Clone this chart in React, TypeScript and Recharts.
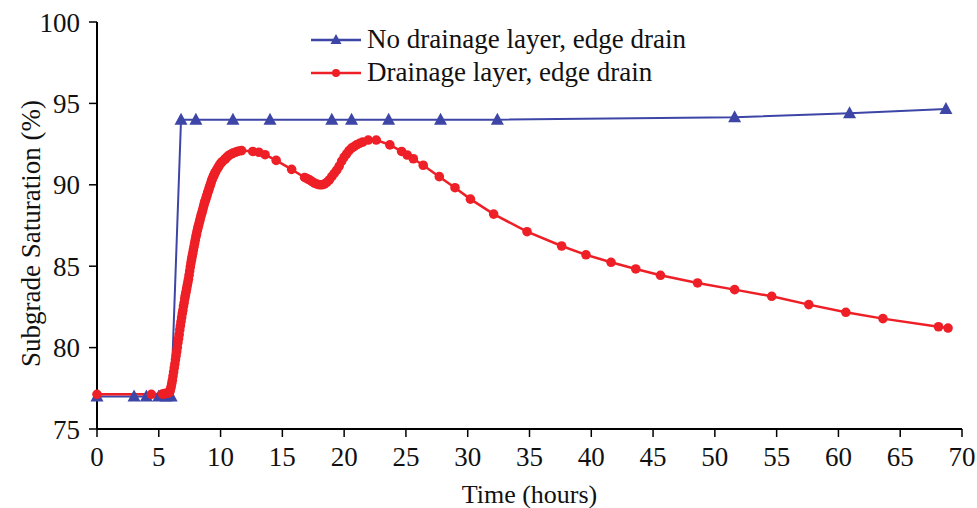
import React from "react";
import { Legend, Line, LineChart, XAxis, YAxis } from "recharts";

// Subgrade saturation over time, two drainage configurations
const noDrainHours = [0, 3, 4, 5, 5.6, 6, 6.8, 8, 11, 14, 19, 20.6, 23.6, 27.8, 32.4, 51.6, 60.9, 68.7];
const noDrainSat = [77, 77, 77, 77, 77, 77, 94, 94, 94, 94, 94, 94, 94, 94, 94, 94.15, 94.4, 94.65];

const drainHours = [
    0, 4.4, 5.3, 5.4, 5.5, 5.6, 5.7, 5.8, 5.85, 5.9, 5.95,
    6.0, 6.05, 6.1, 6.15, 6.2, 6.25, 6.3, 6.35, 6.4, 6.45, 6.5, 6.55, 6.6, 6.65, 6.7, 6.75, 6.8, 6.85,
    6.9, 6.95, 7.0, 7.05, 7.1, 7.15, 7.2, 7.25, 7.3, 7.35, 7.4, 7.45, 7.5, 7.55, 7.6, 7.65, 7.7, 7.75,
    7.8, 7.85, 7.9, 7.95, 8.0, 8.05, 8.1, 8.15, 8.2, 8.25, 8.3, 8.35, 8.4, 8.45, 8.5, 8.55, 8.6, 8.65,
    8.7, 8.75, 8.8, 8.85, 8.9, 8.95, 9.0, 9.05, 9.1, 9.15, 9.2, 9.25, 9.3, 9.35, 9.4, 9.45, 9.5, 9.55,
    9.6, 9.7, 9.8, 9.9, 10.0, 10.1, 10.25, 10.4, 10.5, 10.6, 10.75, 10.9, 11.0, 11.2, 11.35, 11.5, 11.7,
    12.6, 13.1, 13.6, 14.5, 15.75, 16.8, 17.0, 17.2, 17.4, 17.6, 17.8, 18.0, 18.2, 18.4, 18.6, 18.8,
    19.0, 19.2, 19.4, 19.6, 19.8, 20.0, 20.2, 20.4, 20.6, 20.8, 21.0, 21.25, 21.5, 21.95, 22.6, 23.7,
    24.65, 25.1, 25.6, 26.4, 27.7, 28.97, 30.22, 32.1, 34.8, 37.6, 39.57, 41.6, 43.6, 45.6, 48.6, 51.6,
    54.6, 57.6, 60.6, 63.6, 68.1, 68.87,
];
const drainSat = [
    77.13, 77.13, 77.15, 77.15, 77.18, 77.2, 77.2, 77.22, 77.25, 77.3, 77.45,
    77.6, 77.8, 78.0, 78.25, 78.5, 78.75, 79.0, 79.25, 79.5, 79.75, 80.0, 80.3, 80.55, 80.8, 81.1, 81.35,
    81.6, 81.85, 82.1, 82.3, 82.55, 82.75, 83.0, 83.2, 83.4, 83.6, 83.8, 84.0, 84.2, 84.45, 84.7, 84.95,
    85.2, 85.4, 85.6, 85.8, 86.0, 86.2, 86.4, 86.6, 86.8, 86.95, 87.15, 87.3, 87.45, 87.6, 87.75, 87.9,
    88.05, 88.2, 88.3, 88.45, 88.6, 88.75, 88.9, 89.0, 89.1, 89.25, 89.35, 89.5, 89.6, 89.7, 89.85, 89.95,
    90.05, 90.2, 90.3, 90.4, 90.5, 90.55, 90.65, 90.75, 90.8, 90.95, 91.05, 91.2, 91.3, 91.4, 91.5, 91.6,
    91.7, 91.75, 91.85, 91.9, 91.95, 92.0, 92.05, 92.08, 92.1,
    92.05, 92.0, 91.85, 91.5, 90.95, 90.45, 90.38, 90.3, 90.2, 90.1, 90.05, 90.0, 90.0, 90.05, 90.15,
    90.3, 90.5, 90.7, 90.9, 91.15, 91.45, 91.7, 91.9, 92.1, 92.25, 92.35, 92.45, 92.55, 92.62, 92.75,
    92.75, 92.45, 92.05, 91.83, 91.6, 91.2, 90.5, 89.82, 89.12, 88.2, 87.12, 86.24, 85.7, 85.24, 84.83,
    84.44, 83.97, 83.56, 83.15, 82.64, 82.17, 81.78, 81.28, 81.2,
];

const hourTicks = [0, 5, 10, 15, 20, 25, 30, 35, 40, 45, 50, 55, 60, 65, 70];
const satTicks = [75, 80, 85, 90, 95, 100];
const minorHourTicks = Array.from({ length: 71 }, (_, i) => i);
const minorSatTicks = Array.from({ length: 26 }, (_, i) => 75 + i);

const BLUE = "#3d46a6";
const RED = "#ee1f26";
const FONT = "'Liberation Serif', 'Times New Roman', serif";

const noDrain = noDrainHours.map((t, i) => ({ t, sat: noDrainSat[i] }));
const drain = drainHours.map((t, i) => ({ t, sat: drainSat[i] }));

const Triangle = (props: any) => {
    const { cx, cy, index } = props;
    if (cx == null || cy == null) return <g key={index} />;
    return (
        <polygon
            key={index}
            points={`${cx},${cy - 7} ${cx - 6.5},${cy + 5} ${cx + 6.5},${cy + 5}`}
            fill={BLUE}
        />
    );
};

const renderLegend = (props: any) => {
    // blue series first, as in the key order of the figure
    const items = [...props.payload].sort(
        (a: any, b: any) => Number(b.value.startsWith("No")) - Number(a.value.startsWith("No"))
    );
    return (
        <div style={{ fontFamily: FONT, fontSize: 27, color: "#111" }}>
            {items.map((entry: any) => (
                <div key={entry.value} style={{ display: "flex", alignItems: "center", height: 33 }}>
                    <svg width={54} height={20} style={{ marginRight: 4 }}>
                        <line x1={2} y1={10} x2={52} y2={10} stroke={entry.color} strokeWidth={2.5} />
                        {entry.value.startsWith("No") ? (
                            <polygon points="27,4 21.5,14 32.5,14" fill={entry.color} />
                        ) : (
                            <circle cx={27} cy={10} r={4} fill={entry.color} />
                        )}
                    </svg>
                    <span>{entry.value}</span>
                </div>
            ))}
        </div>
    );
};

const YTitle = (props: any) => {
    const { viewBox } = props;
    const x = viewBox.x + 31;
    const y = viewBox.y + viewBox.height / 2 + 8;
    return (
        <text
            x={x}
            y={y}
            transform={`rotate(-90 ${x} ${y})`}
            textAnchor="middle"
            dominantBaseline="central"
            fill="#111"
            fontSize={27}
            fontFamily={FONT}
        >
            Subgrade Saturation (%)
        </text>
    );
};

export default function App() {
    return (
        <div style={{ position: "absolute", left: 0, top: 0, background: "#fff" }}>
            <LineChart width={977} height={508} margin={{ top: 22, right: 15, bottom: 0, left: 0 }}>
                <XAxis
                    xAxisId="minor"
                    type="number"
                    dataKey="t"
                    domain={[0, 70]}
                    ticks={minorHourTicks}
                    mirror
                    height={0}
                    axisLine={false}
                    tickSize={5}
                    tickLine={{ stroke: "#000", strokeWidth: 1.2 }}
                    tickFormatter={() => ""}
                />
                <XAxis
                    type="number"
                    dataKey="t"
                    domain={[0, 70]}
                    ticks={hourTicks}
                    height={79}
                    tickSize={8}
                    tickMargin={10}
                    axisLine={{ stroke: "#000", strokeWidth: 2 }}
                    tickLine={{ stroke: "#000", strokeWidth: 1.5 }}
                    tick={{ fill: "#111", fontSize: 27, fontFamily: FONT }}
                    label={{
                        value: "Time (hours)",
                        position: "insideBottom",
                        offset: 5,
                        style: { fill: "#111", fontSize: 26, fontFamily: FONT },
                    }}
                />
                <YAxis
                    yAxisId="minor"
                    type="number"
                    domain={[75, 100]}
                    ticks={minorSatTicks}
                    mirror
                    width={0}
                    axisLine={false}
                    tickSize={5}
                    tickLine={{ stroke: "#000", strokeWidth: 1.2 }}
                    tickFormatter={() => ""}
                />
                <YAxis
                    type="number"
                    domain={[75, 100]}
                    ticks={satTicks}
                    width={97}
                    tickSize={8}
                    tickMargin={9}
                    axisLine={{ stroke: "#000", strokeWidth: 2 }}
                    tickLine={{ stroke: "#000", strokeWidth: 1.5 }}
                    tick={{ fill: "#111", fontSize: 27, fontFamily: FONT }}
                    label={<YTitle />}
                />
                <Legend
                    layout="vertical"
                    align="center"
                    verticalAlign="middle"
                    content={renderLegend}
                    wrapperStyle={{ top: 23, left: 309, width: "auto", height: "auto" }}
                />
                <Line
                    data={noDrain}
                    dataKey="sat"
                    name="No drainage layer, edge drain"
                    stroke={BLUE}
                    strokeWidth={2}
                    dot={Triangle}
                    activeDot={false}
                    isAnimationActive={false}
                />
                <Line
                    data={drain}
                    dataKey="sat"
                    name="Drainage layer, edge drain"
                    stroke={RED}
                    strokeWidth={2.5}
                    dot={{ r: 4.8, fill: RED, stroke: "none" }}
                    activeDot={false}
                    isAnimationActive={false}
                />
            </LineChart>
        </div>
    );
}
